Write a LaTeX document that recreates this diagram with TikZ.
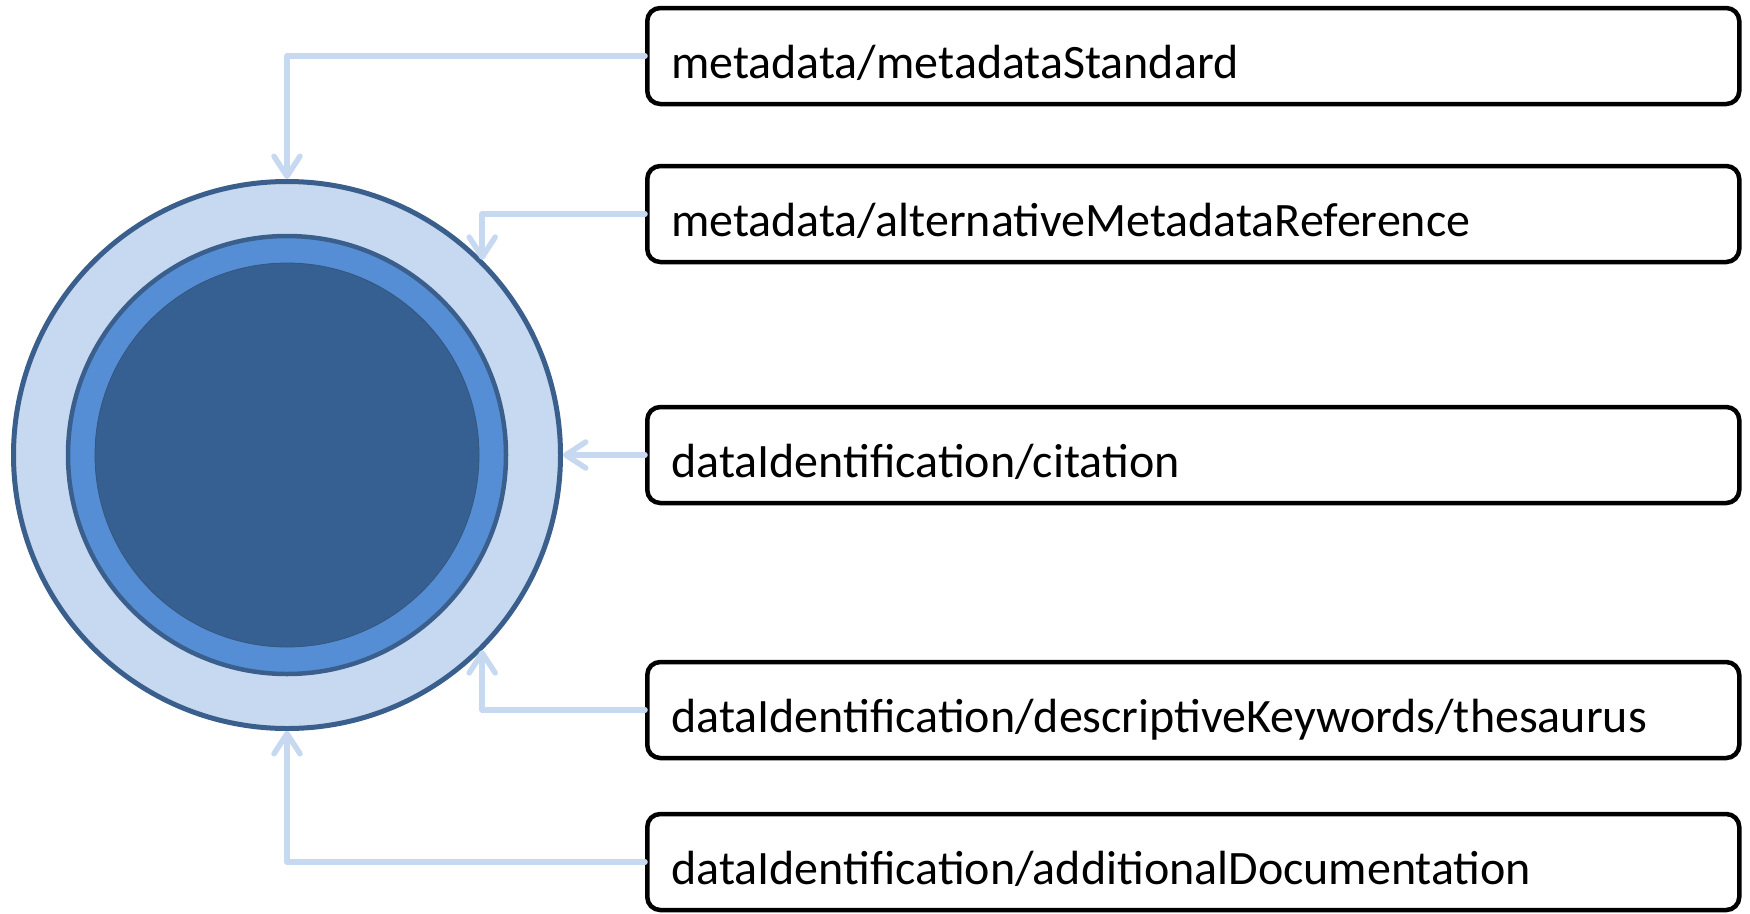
\documentclass[tikz,border=0pt]{standalone}
\usepackage{fontspec}
\setmainfont{Carlito}
\usetikzlibrary{arrows.meta}
\definecolor{conn}{HTML}{C6D9F1}
\definecolor{ringline}{HTML}{3A5F8D}
\definecolor{ringfill}{HTML}{C6D9F1}
\definecolor{midfill}{HTML}{558ED5}
\definecolor{corefill}{HTML}{366092}
\tikzset{
  labelbox/.style={draw=black, line width=4.5pt, rounded corners=13pt, fill=white,
    anchor=west, minimum width=1092pt, minimum height=96pt, text width=1044pt,
    align=left, inner xsep=24pt, text height=52pt, text depth=8pt,
    font=\fontsize{48}{57}\selectfont},
  connector/.style={draw=conn, line width=5.5pt, line cap=round, line join=round,
    -{Straight Barb[length=20pt,width=26pt,round]}},
}
\begin{document}
\begin{tikzpicture}[x=1pt,y=-1pt]
\useasboundingbox (0,0) rectangle (1750,913);
% circles
\node[circle, draw=ringline, line width=5pt, fill=ringfill, minimum size=547pt, inner sep=0pt] (outer) at (287,455) {};
\node[circle, draw=ringline, line width=4.5pt, fill=midfill, minimum size=438pt, inner sep=0pt] (mid) at (287,455) {};
\node[circle, draw=ringline!90!black, line width=0.8pt, fill=corefill, minimum size=384pt, inner sep=0pt] (core) at (287,455) {};
% boxes
\node[labelbox] (b1) at (645,56) {metadata/metadataStandard};
\node[labelbox] (b2) at (645,214) {metadata/alternativeMetadataReference};
\node[labelbox] (b3) at (645,455) {dataIdentification/citation};
\node[labelbox] (b4) at (645,710) {dataIdentification/descriptiveKeywords/thesaurus};
\node[labelbox] (b5) at (645,862) {dataIdentification/additionalDocumentation};
% connectors
\draw[connector] (b1.west) -| (outer.north);
\draw[connector] (b2.west) -| (outer.45);
\draw[connector] (b3.west) -- (outer.east);
\draw[connector] (b4.west) -| (outer.-45);
\draw[connector] (b5.west) -| (outer.south);
\end{tikzpicture}
\end{document}
